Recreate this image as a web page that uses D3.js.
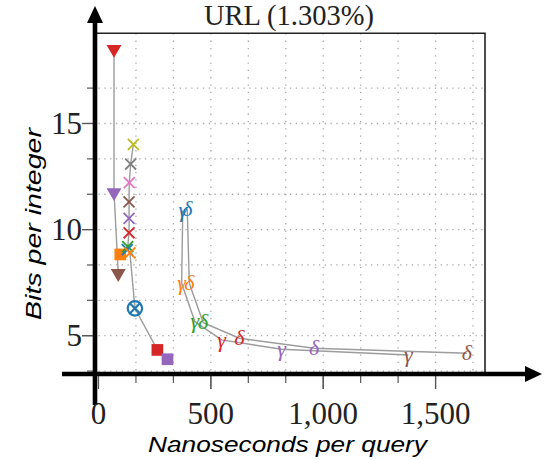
<!DOCTYPE html>
<html>
<head>
<meta charset="utf-8">
<script src="https://cdn.jsdelivr.net/npm/d3@7"></script>
<style>
  body { margin: 0; background: #fff; }
  svg { display: block; }
</style>
</head>
<body>
<div id="chart"></div>
<script>
//Chart data
var xTicks = [0, 500, 1000, 1500];
var yTicks = [5, 10, 15];

var triangleTime = [69, 69, 88];
var triangleBits = [18.5, 11.75, 7.94];
var triangleColor = ["#d62728", "#9467bd", "#8c564b"];

var crossTime = [155, 143, 137, 136, 136, 136, 130, 128, 140];
var crossBits = [14.02, 13.09, 12.21, 11.31, 10.53, 9.85, 9.2, 9.06, 8.9];
var crossColor = ["#bcbd22", "#7f7f7f", "#e377c2", "#8c564b", "#9467bd", "#d62728", "#2ca02c", "#1f77b4", "#ff7f0e"];

var circledTime = [162];
var circledBits = [6.29];

var squareTime = [97, 262, 307];
var squareBits = [8.83, 4.33, 3.89];
var squareColor = ["#ff7f0e", "#d62728", "#9467bd"];

var greekColor = ["#1f77b4", "#ff7f0e", "#2ca02c", "#d62728", "#9467bd", "#8c564b"];
var gammaTime = [375, 370, 429, 548, 815, 1379];
var gammaBits = [10.89, 7.47, 5.66, 4.8, 4.36, 4.09];
var deltaTime = [395, 404, 466, 627, 959, 1639];
var deltaBits = [10.96, 7.47, 5.61, 4.88, 4.41, 4.17];

//Sizes
var width = 548, height = 460;
var plot = { left: 98.5, right: 485, top: 33.3, bottom: 373.9 };

var x = d3.scaleLinear().domain([0, 1720]).range([plot.left, plot.right]);
var y = d3.scaleLinear().domain([3.2, 19.25]).range([plot.bottom, plot.top]);

var svg = d3.select("#chart").append("svg")
  .attr("width", width)
  .attr("height", height);

//Grid at the minor ticks
var xMinor = d3.range(1, 11).map(function(i) { return i * 500 / 3; });
var yMinor = d3.range(2, 11).map(function(i) { return i * 5 / 3; });

svg.append("g").selectAll("line")
  .data(xMinor)
  .enter().append("line")
  .attr("x1", d => x(d)).attr("x2", d => x(d))
  .attr("y1", plot.top).attr("y2", plot.bottom)
  .attr("stroke", "#a8a8a8")
  .attr("stroke-width", 1.3)
  .attr("stroke-dasharray", "1.3,6");

svg.append("g").selectAll("line")
  .data(yMinor)
  .enter().append("line")
  .attr("x1", plot.left).attr("x2", plot.right)
  .attr("y1", d => y(d)).attr("y2", d => y(d))
  .attr("stroke", "#a8a8a8")
  .attr("stroke-width", 1.3)
  .attr("stroke-dasharray", "1.3,4.5");

//Connecting lines
var line = d3.line().x(d => x(d[0])).y(d => y(d[1]));
var pairs = function(xs, ys) { return xs.map(function(v, i) { return [v, ys[i]]; }); };

var lineA = pairs(triangleTime, triangleBits);
var lineB = pairs(crossTime, crossBits)
  .concat(pairs(circledTime, circledBits))
  .concat(pairs(squareTime.slice(1), squareBits.slice(1)));

[lineA, lineB, pairs(gammaTime, gammaBits), pairs(deltaTime, deltaBits)].forEach(function(pts) {
  svg.append("path")
    .attr("d", line(pts))
    .attr("fill", "none")
    .attr("stroke", "#9c9c9c")
    .attr("stroke-width", 1.4);
});

//Markers
svg.append("g").selectAll("path")
  .data(triangleTime)
  .enter().append("path")
  .attr("d", d3.symbol().type(d3.symbolTriangle).size(97))
  .attr("transform", (d, i) => "translate(" + x(d) + "," + y(triangleBits[i]) + ") rotate(180)")
  .attr("fill", (d, i) => triangleColor[i]);

svg.append("g").selectAll("path")
  .data(squareTime)
  .enter().append("path")
  .attr("d", d3.symbol().type(d3.symbolSquare).size(137))
  .attr("transform", (d, i) => "translate(" + x(d) + "," + y(squareBits[i]) + ")")
  .attr("fill", (d, i) => squareColor[i]);

svg.append("g").selectAll("path")
  .data(crossTime)
  .enter().append("path")
  .attr("d", d3.symbol().type(d3.symbolTimes).size(80))
  .attr("transform", (d, i) => "translate(" + x(d) + "," + y(crossBits[i]) + ")")
  .attr("fill", "none")
  .attr("stroke", (d, i) => crossColor[i])
  .attr("stroke-width", 1.8);

var circled = svg.append("g").selectAll("g")
  .data(circledTime)
  .enter().append("g")
  .attr("transform", (d, i) => "translate(" + x(d) + "," + y(circledBits[i]) + ")");
circled.append("circle")
  .attr("r", 7.2)
  .attr("fill", "none")
  .attr("stroke", "#1f77b4")
  .attr("stroke-width", 2.2);
circled.append("path")
  .attr("d", d3.symbol().type(d3.symbolTimes).size(70))
  .attr("fill", "none")
  .attr("stroke", "#1f77b4")
  .attr("stroke-width", 2.2);

//Greek letter marks
function greek(times, bits, glyph) {
  svg.append("g").selectAll("text")
    .data(times)
    .enter().append("text")
    .attr("x", d => x(d))
    .attr("y", (d, i) => y(bits[i]))
    .attr("dy", "0.3em")
    .attr("text-anchor", "middle")
    .attr("font-family", "Liberation Serif, serif")
    .attr("font-style", "italic")
    .attr("font-size", 22)
    .attr("fill", (d, i) => greekColor[i])
    .text(glyph);
}
greek(gammaTime, gammaBits, "γ");
greek(deltaTime, deltaBits, "δ");

//Frame (top and right)
svg.append("path")
  .attr("d", "M" + 95 + "," + plot.top + "H" + plot.right + "V" + plot.bottom)
  .attr("fill", "none")
  .attr("stroke", "#222")
  .attr("stroke-width", 1.6);

//Tick marks
svg.append("g").selectAll("line")
  .data(yMinor.concat(yTicks))
  .enter().append("line")
  .attr("x1", d => yTicks.indexOf(d) >= 0 ? 82 : 87).attr("x2", 94)
  .attr("y1", d => y(d)).attr("y2", d => y(d))
  .attr("stroke", "#555")
  .attr("stroke-width", 1.2);

svg.append("g").selectAll("line")
  .data(xMinor.slice(0, 9).concat(xTicks))
  .enter().append("line")
  .attr("x1", d => x(d)).attr("x2", d => x(d))
  .attr("y1", 376).attr("y2", d => xTicks.indexOf(d) >= 0 ? 389 : 383)
  .attr("stroke", "#555")
  .attr("stroke-width", 1.2);

//Thick axis arrows
svg.append("line")
  .attr("x1", 95).attr("x2", 95)
  .attr("y1", 405).attr("y2", 20)
  .attr("stroke", "#000").attr("stroke-width", 4.6);
svg.append("path")
  .attr("d", "M95,6 L103,23 L87,23 Z")
  .attr("fill", "#000");

svg.append("line")
  .attr("x1", 62).attr("x2", 528)
  .attr("y1", 374).attr("y2", 374)
  .attr("stroke", "#000").attr("stroke-width", 4.6);
svg.append("path")
  .attr("d", "M542,374 L525,366 L525,382 Z")
  .attr("fill", "#000");

//Tick labels
var fmt = d3.format(",");
svg.append("g").selectAll("text")
  .data(xTicks)
  .enter().append("text")
  .attr("x", d => x(d))
  .attr("y", 424)
  .attr("text-anchor", "middle")
  .attr("font-family", "Liberation Serif, serif")
  .attr("font-size", 31)
  .attr("fill", "#222")
  .text(d => fmt(d));

svg.append("g").selectAll("text")
  .data(yTicks)
  .enter().append("text")
  .attr("x", 82)
  .attr("y", d => y(d) + 10.5)
  .attr("text-anchor", "end")
  .attr("font-family", "Liberation Serif, serif")
  .attr("font-size", 31)
  .attr("fill", "#222")
  .text(d => d);

//Title and axis labels
svg.append("text")
  .attr("x", 289)
  .attr("y", 25)
  .attr("text-anchor", "middle")
  .attr("font-family", "Liberation Serif, serif")
  .attr("font-size", 28.5)
  .attr("fill", "#222")
  .text("URL (1.303%)");

svg.append("text")
  .attr("x", 148)
  .attr("y", 452)
  .attr("font-family", "Liberation Sans, sans-serif")
  .attr("font-style", "italic")
  .attr("font-size", 22)
  .attr("textLength", 279)
  .attr("lengthAdjust", "spacingAndGlyphs")
  .attr("fill", "#000")
  .text("Nanoseconds per query");

svg.append("text")
  .attr("transform", "translate(41,320) rotate(-90)")
  .attr("font-family", "Liberation Sans, sans-serif")
  .attr("font-style", "italic")
  .attr("font-size", 22)
  .attr("textLength", 192)
  .attr("lengthAdjust", "spacingAndGlyphs")
  .attr("fill", "#000")
  .text("Bits per integer");
</script>
</body>
</html>
